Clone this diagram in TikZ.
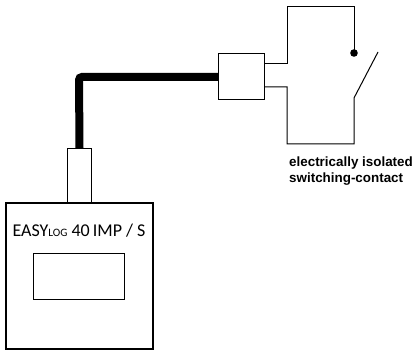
\documentclass[tikz,border=0pt]{standalone}
\usepackage{fontspec}
\setmainfont{Carlito}
\newfontfamily\lab{Liberation Sans}
\begin{document}
\begin{tikzpicture}[x=1pt,y=-1pt,
  box/.style={draw,line width=1pt,inner sep=0pt,anchor=north west},
  wire/.style={line width=1pt},
  cable/.style={line width=8pt,rounded corners=3pt}]
\useasboundingbox (0,0) rectangle (413,350);
% logger
\node[box,line width=2pt,minimum width=147pt,minimum height=146pt] (logger) at (5,202) {};
\node[box,minimum width=24pt,minimum height=54pt] (neck) at (67,148) {};
\node[box,minimum width=91pt,minimum height=46pt] (display) at (33,253) {};
\node[anchor=base,font=\fontsize{18}{20}\selectfont,inner sep=0pt] (name) at (79,237) {EASY{\fontsize{11.3}{12}\selectfont LOG} 40\,IMP / S};
% plug
\node[box,minimum width=46pt,minimum height=46pt] (plug) at (218,53) {};
\coordinate (bend) at (79,77);
\draw[cable] (neck.north) -- (bend) -- (plug.west |- bend);
% switch
\coordinate (c1) at (287,64);
\coordinate (c2) at (287,7);
\coordinate (c3) at (354,7);
\coordinate (pivot) at (354,53);
\coordinate (blade0) at (354,98);
\coordinate (blade1) at (378,52);
\coordinate (c4) at (354,144);
\coordinate (c5) at (287,144);
\coordinate (c6) at (287,87);
\draw[wire] (plug.east |- c1) -- (c1) -- (c2) -- (c3) -- (pivot);
\fill (pivot) circle (3.8pt);
\draw[wire] (blade1) -- (blade0) -- (c4) -- (c5) -- (c6) -- (plug.east |- c6);
\node[anchor=base west,align=left,inner sep=0pt,font=\lab\bfseries\fontsize{13.4}{16}\selectfont] (lbl) at (289,183) {electrically isolated\\switching-contact};
\end{tikzpicture}
\end{document}
